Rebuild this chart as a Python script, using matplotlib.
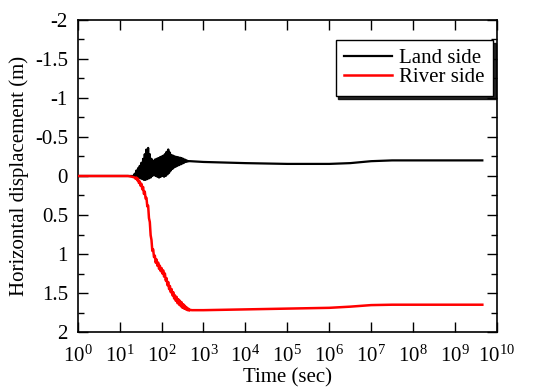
import numpy as np
import matplotlib
matplotlib.use("Agg")
import matplotlib.pyplot as plt
from matplotlib.ticker import FixedLocator, FixedFormatter, MultipleLocator, NullLocator

plt.rcParams['font.family'] = ['Liberation Serif', 'DejaVu Serif']
plt.rcParams['mathtext.fontset'] = 'custom'
plt.rcParams['mathtext.rm'] = 'Liberation Serif'
plt.rcParams['mathtext.it'] = 'Liberation Serif:italic'

# ---- Land side (black): log10(time) and displacement (m) ----
land_logt = [0.0, 1.0, 1.30, 1.34,
             1.36, 1.38, 1.40, 1.42, 1.44, 1.46, 1.48, 1.50, 1.52, 1.54,
             1.56, 1.58, 1.60, 1.62, 1.64, 1.66, 1.68, 1.70, 1.72, 1.74,
             1.76, 1.78, 1.80, 1.82, 1.84, 1.86, 1.88, 1.90, 1.92, 1.94,
             1.96, 1.98, 2.00, 2.02, 2.04, 2.06, 2.08, 2.10, 2.12, 2.14,
             2.16, 2.18, 2.20, 2.22, 2.24, 2.26, 2.28, 2.30, 2.32, 2.34,
             2.36, 2.38, 2.40, 2.42, 2.44, 2.46, 2.48, 2.50, 2.52, 2.54,
             2.56, 2.58, 2.60, 2.62, 2.64, 2.68,
             3.0, 4.0, 5.0, 6.0, 6.5, 7.0, 7.5, 8.0, 9.0, 9.65]
land_disp = [0.0, 0.0, 0.0, 0.0,
             -0.03, 0.01, -0.07, 0.01, -0.10, 0.02, -0.13, 0.03, -0.17, 0.04,
             -0.22, 0.05, -0.28, 0.05, -0.34, 0.04, -0.36, 0.03, -0.28, 0.02,
             -0.22, 0.00, -0.19, -0.01, -0.21, 0.00, -0.22, 0.01, -0.23, 0.02,
             -0.24, 0.01, -0.25, 0.00, -0.26, 0.01, -0.28, 0.00, -0.31, -0.02,
             -0.34, -0.04, -0.30, -0.07, -0.27, -0.09, -0.26, -0.11, -0.25, -0.12,
             -0.245, -0.13, -0.24, -0.14, -0.235, -0.15, -0.23, -0.16, -0.22, -0.17,
             -0.21, -0.18, -0.20, -0.185, -0.19, -0.19,
             -0.18, -0.165, -0.155, -0.155, -0.165, -0.19, -0.20, -0.20, -0.20, -0.20]

# ---- River side (red): log10(time) and displacement (m) ----
river_logt = [0.0, 1.0, 1.20, 1.30, 1.36, 1.38,
              1.40, 1.42, 1.44, 1.46, 1.48, 1.50, 1.52, 1.54, 1.56, 1.58,
              1.60, 1.62, 1.64, 1.66, 1.68, 1.70, 1.72, 1.74, 1.76, 1.78,
              1.80, 1.82, 1.84, 1.86, 1.88, 1.90, 1.92, 1.94, 1.96, 1.98,
              2.00, 2.02, 2.04, 2.06, 2.08, 2.10, 2.12, 2.14, 2.16, 2.18,
              2.20, 2.22, 2.24, 2.26, 2.28, 2.30, 2.32, 2.34, 2.36, 2.38,
              2.40, 2.42, 2.44, 2.46, 2.48, 2.50, 2.52, 2.54, 2.56, 2.58,
              2.60, 2.62, 2.64, 2.66, 2.68, 2.72,
              3.0, 4.0, 5.0, 6.0, 6.5, 7.0, 7.5, 8.0, 9.0, 9.65]
river_disp = [0.0, 0.0, 0.0, 0.01, 0.02, 0.035,
              0.02, 0.055, 0.035, 0.09, 0.07, 0.125, 0.10, 0.17, 0.14, 0.23,
              0.20, 0.29, 0.28, 0.39, 0.38, 0.54, 0.59, 0.76, 0.82, 0.96,
              0.94, 1.04, 1.02, 1.11, 1.07, 1.15, 1.11, 1.19, 1.15, 1.22,
              1.18, 1.25, 1.21, 1.29, 1.25, 1.34, 1.31, 1.40, 1.36, 1.45,
              1.41, 1.49, 1.45, 1.53, 1.49, 1.57, 1.53, 1.60, 1.55, 1.63,
              1.58, 1.65, 1.60, 1.67, 1.62, 1.69, 1.645, 1.70, 1.665, 1.71,
              1.685, 1.72, 1.70, 1.725, 1.715, 1.72,
              1.72, 1.71, 1.70, 1.69, 1.675, 1.655, 1.65, 1.65, 1.65, 1.65]

xtick_exps = list(range(0, 11))
ytick_vals = [-2, -1.5, -1, -0.5, 0, 0.5, 1, 1.5, 2]
ytick_labels = ['-2', '-1.5', '-1', '-0.5', '0', '0.5', '1', '1.5', '2']

land_t = 10.0 ** np.array(land_logt)
river_t = 10.0 ** np.array(river_logt)

fig = plt.figure(figsize=(5.44, 3.88), dpi=100)
ax = fig.add_axes([0.1428, 0.1443, 0.9136 - 0.1428, 0.9485 - 0.1443])

ax.plot(land_t, land_disp, color='black', lw=1.6, label='Land side', zorder=2)
ax.plot(river_t, river_disp, color='red', lw=1.8, label='River side', zorder=3)

ax.set_xscale('log')
ax.set_xlim(1, 1e10)
ax.set_ylim(2, -2)

ax.xaxis.set_major_locator(FixedLocator([10.0 ** e for e in xtick_exps]))
ax.xaxis.set_major_formatter(FixedFormatter(['$10^{%d}$' % e for e in xtick_exps]))
ax.xaxis.set_minor_locator(NullLocator())
ax.yaxis.set_major_locator(FixedLocator(ytick_vals))
ax.yaxis.set_major_formatter(FixedFormatter(ytick_labels))
ax.yaxis.set_minor_locator(MultipleLocator(0.25))

ax.tick_params(which='both', direction='in', top=True, right=True, labelsize=15, width=1.0)
ax.tick_params(which='major', length=7)
ax.tick_params(which='minor', length=4)
ax.tick_params(axis='x', pad=9.5)
ax.tick_params(axis='y', pad=7)
for s in ax.spines.values():
    s.set_linewidth(1.2)

ax.set_xlabel('Time (sec)', fontsize=15, labelpad=1.2)
ax.set_ylabel('Horizontal displacement (m)', fontsize=15, labelpad=4)

leg = ax.legend(loc='upper right', bbox_to_anchor=(0.9905, 0.936), borderaxespad=0,
                fontsize=15, frameon=True, fancybox=False, shadow={'color': 'black', 'alpha': 0.85},
                handlelength=2.3, handletextpad=0.35, borderpad=0.4, labelspacing=0.0)
leg.get_frame().set_edgecolor('black')
leg.get_frame().set_linewidth(1.0)

fig.savefig('out.png', dpi=100)
